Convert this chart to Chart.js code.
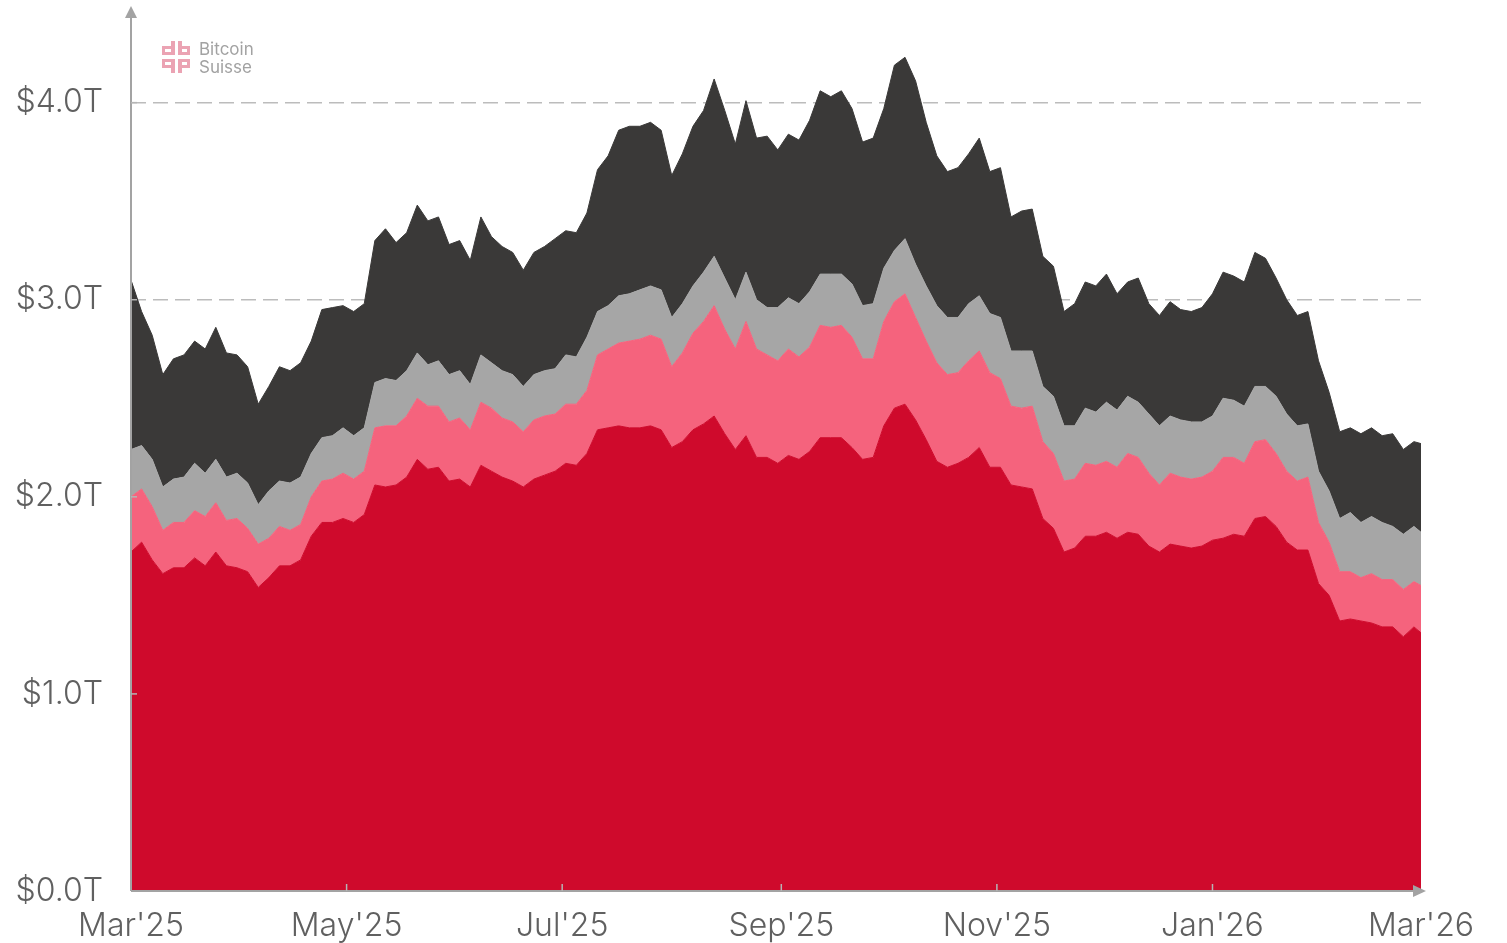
<!DOCTYPE html>
<html>
<head>
<meta charset="utf-8">
<title>Crypto market capitalisation</title>
<script src="https://cdn.jsdelivr.net/npm/chart.js@4.4.1/dist/chart.umd.min.js"></script>
<style>
  html, body { margin: 0; padding: 0; background: #ffffff; }
  #wrap { width: 1507px; height: 943px; }
</style>
</head>
<body>
<div id="wrap"><canvas id="mcap-chart" width="1507" height="943"></canvas></div>
<script>
// Market cap in trillions USD, sampled every 3 days from 1 Mar 2025 (last point = 1 Mar 2026)
const dayStep = 3;
const lastDay = 365;

const btc = [
    1.72, 1.77, 1.68, 1.61, 1.64, 1.64, 1.69, 1.65, 1.72, 1.65,
    1.64, 1.62, 1.54, 1.59, 1.65, 1.65, 1.68, 1.80, 1.87, 1.87,
    1.89, 1.87, 1.91, 2.06, 2.05, 2.06, 2.10, 2.19, 2.14, 2.15,
    2.08, 2.09, 2.05, 2.16, 2.13, 2.10, 2.08, 2.05, 2.09, 2.11,
    2.13, 2.17, 2.16, 2.22, 2.34, 2.35, 2.36, 2.35, 2.35, 2.36,
    2.34, 2.25, 2.28, 2.34, 2.37, 2.41, 2.32, 2.24, 2.31, 2.20,
    2.20, 2.17, 2.21, 2.19, 2.23, 2.30, 2.30, 2.30, 2.25, 2.19,
    2.20, 2.36, 2.45, 2.47, 2.39, 2.29, 2.18, 2.15, 2.17, 2.20,
    2.25, 2.15, 2.15, 2.06, 2.05, 2.04, 1.89, 1.84, 1.72, 1.74,
    1.80, 1.80, 1.82, 1.79, 1.82, 1.81, 1.75, 1.72, 1.76, 1.75,
    1.74, 1.75, 1.78, 1.79, 1.81, 1.80, 1.89, 1.90, 1.85, 1.77,
    1.73, 1.73, 1.56, 1.50, 1.37, 1.38, 1.37, 1.36, 1.34, 1.34,
    1.29, 1.34, 1.31
];

const eth = [
    0.28, 0.27, 0.27, 0.22, 0.23, 0.23, 0.24, 0.25, 0.25, 0.23,
    0.25, 0.22, 0.22, 0.20, 0.20, 0.18, 0.18, 0.20, 0.21, 0.22,
    0.23, 0.22, 0.22, 0.29, 0.31, 0.30, 0.31, 0.31, 0.32, 0.31,
    0.30, 0.31, 0.29, 0.32, 0.32, 0.30, 0.30, 0.28, 0.30, 0.30,
    0.29, 0.30, 0.31, 0.32, 0.38, 0.40, 0.42, 0.44, 0.45, 0.46,
    0.46, 0.41, 0.45, 0.49, 0.52, 0.56, 0.53, 0.51, 0.58, 0.55,
    0.52, 0.52, 0.54, 0.52, 0.53, 0.57, 0.56, 0.57, 0.56, 0.51,
    0.50, 0.53, 0.54, 0.56, 0.52, 0.50, 0.50, 0.47, 0.46, 0.49,
    0.49, 0.48, 0.45, 0.40, 0.40, 0.42, 0.39, 0.38, 0.36, 0.35,
    0.37, 0.36, 0.36, 0.36, 0.40, 0.39, 0.37, 0.34, 0.36, 0.35,
    0.35, 0.35, 0.35, 0.41, 0.39, 0.37, 0.39, 0.39, 0.37, 0.36,
    0.35, 0.37, 0.31, 0.27, 0.25, 0.24, 0.22, 0.25, 0.24, 0.24,
    0.24, 0.23, 0.24
];

const stablecoins = [
    0.24, 0.22, 0.24, 0.22, 0.22, 0.23, 0.24, 0.22, 0.22, 0.22,
    0.23, 0.23, 0.20, 0.24, 0.23, 0.24, 0.24, 0.22, 0.22, 0.22,
    0.23, 0.22, 0.22, 0.23, 0.24, 0.23, 0.23, 0.23, 0.21, 0.23,
    0.24, 0.24, 0.23, 0.24, 0.23, 0.24, 0.24, 0.23, 0.23, 0.23,
    0.23, 0.25, 0.24, 0.27, 0.22, 0.22, 0.24, 0.24, 0.25, 0.25,
    0.25, 0.25, 0.25, 0.24, 0.25, 0.25, 0.26, 0.25, 0.25, 0.25,
    0.24, 0.27, 0.26, 0.27, 0.28, 0.26, 0.27, 0.26, 0.27, 0.27,
    0.28, 0.27, 0.26, 0.28, 0.27, 0.28, 0.29, 0.29, 0.28, 0.29,
    0.28, 0.30, 0.31, 0.28, 0.29, 0.28, 0.28, 0.29, 0.28, 0.27,
    0.28, 0.27, 0.30, 0.29, 0.29, 0.28, 0.30, 0.30, 0.29, 0.29,
    0.29, 0.28, 0.28, 0.30, 0.29, 0.29, 0.28, 0.27, 0.29, 0.29,
    0.28, 0.27, 0.26, 0.26, 0.27, 0.30, 0.28, 0.29, 0.29, 0.27,
    0.28, 0.28, 0.27
];

const others = [
    0.86, 0.68, 0.63, 0.57, 0.61, 0.62, 0.62, 0.63, 0.67, 0.63,
    0.60, 0.59, 0.51, 0.53, 0.58, 0.57, 0.58, 0.57, 0.65, 0.65,
    0.62, 0.63, 0.63, 0.72, 0.76, 0.70, 0.70, 0.75, 0.73, 0.73,
    0.66, 0.66, 0.63, 0.70, 0.64, 0.63, 0.62, 0.59, 0.62, 0.63,
    0.66, 0.63, 0.63, 0.63, 0.72, 0.76, 0.84, 0.85, 0.83, 0.83,
    0.81, 0.72, 0.76, 0.81, 0.82, 0.90, 0.85, 0.79, 0.87, 0.82,
    0.87, 0.80, 0.83, 0.83, 0.87, 0.93, 0.90, 0.93, 0.89, 0.83,
    0.84, 0.81, 0.94, 0.92, 0.93, 0.83, 0.76, 0.74, 0.76, 0.76,
    0.80, 0.72, 0.76, 0.68, 0.71, 0.72, 0.66, 0.66, 0.58, 0.62,
    0.64, 0.64, 0.65, 0.59, 0.58, 0.63, 0.56, 0.56, 0.58, 0.56,
    0.56, 0.58, 0.62, 0.64, 0.63, 0.63, 0.68, 0.65, 0.60, 0.58,
    0.56, 0.57, 0.56, 0.50, 0.44, 0.43, 0.45, 0.45, 0.44, 0.47,
    0.43, 0.43, 0.45
];

// Axis ticks (x in days since 1 Mar 2025)
const monthTicks = [0, 61, 122, 184, 245, 306, 365];
const monthLabels = ["Mar'25", "May'25", "Jul'25", "Sep'25", "Nov'25", "Jan'26", "Mar'26"];
const valueTicks = [0, 1, 2, 3, 4];

(function() {
    'use strict';

    const AXIS_COLOR = '#a3a3a3';
    const LABEL_COLOR = '#606060';
    const LABEL_FONT = { family: 'Inter', size: 32, weight: '300' };

    const dayOf = (i) => (i === btc.length - 1 ? lastDay : i * dayStep);
    const toPoints = (arr) => arr.map((v, i) => ({ x: dayOf(i), y: v }));

    function layer(label, values, color, fill) {
        return {
            label: label,
            data: toPoints(values),
            backgroundColor: color,
            borderColor: color,
            borderWidth: 1,
            fill: fill,
            pointRadius: 0,
            tension: 0
        };
    }

    /**
     * Axis lines with arrow heads and small inward ticks, drawn over the areas
     */
    const axisDecor = {
        id: 'axisDecor',
        afterDatasetsDraw: function(chart) {
            const { ctx, chartArea: area, scales } = chart;
            ctx.save();
            ctx.strokeStyle = AXIS_COLOR;
            ctx.fillStyle = AXIS_COLOR;
            ctx.lineWidth = 2;

            // vertical axis + arrow
            ctx.beginPath();
            ctx.moveTo(area.left, area.bottom);
            ctx.lineTo(area.left, area.top + 6);
            ctx.stroke();
            ctx.beginPath();
            ctx.moveTo(area.left - 6, area.top + 8);
            ctx.lineTo(area.left + 6, area.top + 8);
            ctx.lineTo(area.left, area.top - 4);
            ctx.closePath();
            ctx.fill();

            // horizontal axis + arrow
            ctx.beginPath();
            ctx.moveTo(area.left, area.bottom);
            ctx.lineTo(area.right - 6, area.bottom);
            ctx.stroke();
            ctx.beginPath();
            ctx.moveTo(area.right - 8, area.bottom - 6);
            ctx.lineTo(area.right - 8, area.bottom + 6);
            ctx.lineTo(area.right + 5, area.bottom);
            ctx.closePath();
            ctx.fill();

            // inward ticks
            ctx.lineWidth = 1.5;
            ctx.strokeStyle = '#b5b5b5';
            monthTicks.slice(1, -1).forEach(function(d) {
                const px = scales.x.getPixelForValue(d);
                ctx.beginPath();
                ctx.moveTo(px, area.bottom);
                ctx.lineTo(px, area.bottom - 7);
                ctx.stroke();
            });
            valueTicks.slice(1).forEach(function(v) {
                const py = scales.y.getPixelForValue(v);
                ctx.beginPath();
                ctx.moveTo(area.left, py);
                ctx.lineTo(area.left + 6, py);
                ctx.stroke();
            });
            ctx.restore();
        }
    };

    /**
     * Bitcoin Suisse watermark in the top left corner
     */
    const watermark = {
        id: 'watermark',
        afterDraw: function(chart) {
            const ctx = chart.ctx;
            const x0 = chart.chartArea.left + 31;
            const y0 = chart.chartArea.top + 31;
            ctx.save();
            ctx.fillStyle = '#eba3b3';
            // top row "db"
            ctx.fillRect(x0, y0 + 5, 11, 9);
            ctx.fillRect(x0 + 9, y0, 4, 14);
            ctx.fillRect(x0 + 16, y0, 4, 14);
            ctx.fillRect(x0 + 16, y0 + 5, 12, 9);
            // bottom row "qp"
            ctx.fillRect(x0, y0 + 18, 11, 9);
            ctx.fillRect(x0 + 9, y0 + 18, 4, 14);
            ctx.fillRect(x0 + 16, y0 + 18, 4, 14);
            ctx.fillRect(x0 + 16, y0 + 18, 12, 9);
            ctx.fillStyle = '#ffffff';
            ctx.fillRect(x0 + 3, y0 + 8, 6, 3);
            ctx.fillRect(x0 + 20, y0 + 8, 5, 3);
            ctx.fillRect(x0 + 3, y0 + 21, 6, 3);
            ctx.fillRect(x0 + 20, y0 + 21, 5, 3);

            ctx.fillStyle = '#a2a2a2';
            ctx.font = '400 17px Inter';
            ctx.textBaseline = 'alphabetic';
            ctx.fillText('Bitcoin', x0 + 37, y0 + 14);
            ctx.fillText('Suisse', x0 + 37, y0 + 32);
            ctx.restore();
        }
    };

    const ctx = document.getElementById('mcap-chart').getContext('2d');

    new Chart(ctx, {
        type: 'line',
        data: {
            datasets: [
                layer('Bitcoin', btc, '#cf0a2c', 'origin'),
                layer('Ethereum', eth, '#f5637d', '-1'),
                layer('Stablecoins', stablecoins, '#a6a6a6', '-1'),
                layer('Others', others, '#3a3938', '-1')
            ]
        },
        options: {
            responsive: false,
            animation: false,
            layout: { padding: { top: 10, right: 86, bottom: 0, left: 0 } },
            plugins: {
                legend: { display: false },
                tooltip: { enabled: false }
            },
            scales: {
                x: {
                    type: 'linear',
                    min: 0,
                    max: lastDay,
                    grid: { display: false },
                    border: { display: false },
                    afterBuildTicks: function(scale) {
                        scale.ticks = monthTicks.map((v) => ({ value: v }));
                    },
                    afterFit: function(scale) {
                        scale.height = 52;
                        scale.paddingLeft = 0;
                        scale.paddingRight = 0;
                    },
                    ticks: {
                        autoSkip: false,
                        maxRotation: 0,
                        padding: 8,
                        color: LABEL_COLOR,
                        font: LABEL_FONT,
                        callback: function(value) {
                            return monthLabels[monthTicks.indexOf(value)];
                        }
                    }
                },
                y: {
                    stacked: true,
                    min: 0,
                    max: 4.47,
                    grid: { color: '#bcbcbc', lineWidth: 1.5, drawTicks: false },
                    border: { display: false, dash: [15, 7] },
                    afterBuildTicks: function(scale) {
                        scale.ticks = valueTicks.map((v) => ({ value: v }));
                    },
                    afterFit: function(scale) {
                        scale.width = 131;
                        scale.paddingTop = 0;
                        scale.paddingBottom = 0;
                    },
                    ticks: {
                        padding: 28,
                        color: LABEL_COLOR,
                        font: LABEL_FONT,
                        callback: function(value) {
                            return '$' + value.toFixed(1) + 'T';
                        }
                    }
                }
            }
        },
        plugins: [axisDecor, watermark]
    });
})();
</script>
</body>
</html>
